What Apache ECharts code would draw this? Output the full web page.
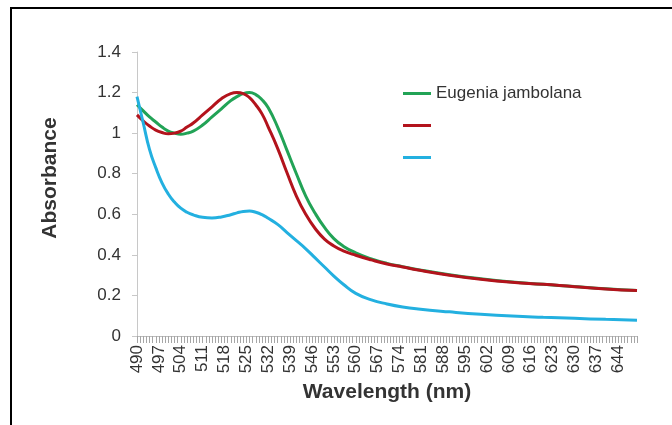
<!DOCTYPE html>
<html>
	<head>
		<meta charset="utf-8">
		<title>Absorbance</title>
		<style type="text/css">
			html, body{
				margin: 0;
				padding: 0;
				background: #fff;
			}
			#chart{
				width: 672px;
				height: 425px;
			}
		</style>
	</head>
	<body>
		<div id="chart"></div>

		<script src="https://cdn.jsdelivr.net/npm/echarts/dist/echarts.min.js"></script>
		<script>
			// 数据
			var seriesNames = ['Eugenia jambolana', 'series 2', 'series 3'];
			var firstNm = 490;
			var lastNm = 650;
			var sampleNm = [490, 492, 494, 496, 498, 500, 502, 504, 506, 508, 511, 514, 517, 520, 522, 524, 526, 528, 530, 532,
				535, 538, 541, 544, 547, 550, 553, 556, 560, 565, 570, 575, 580, 590, 600, 610, 620, 630, 640, 650];
			var green = [1.14, 1.11, 1.08, 1.055, 1.03, 1.01, 1.0, 0.995, 1.0, 1.01, 1.04, 1.08, 1.12, 1.16, 1.18, 1.195, 1.2, 1.19, 1.165, 1.125,
				1.03, 0.915, 0.8, 0.69, 0.605, 0.535, 0.48, 0.443, 0.41, 0.38, 0.358, 0.342, 0.327, 0.302, 0.282, 0.266, 0.255, 0.244, 0.233, 0.224];
			var red = [1.09, 1.06, 1.035, 1.015, 1.003, 0.997, 1.0, 1.01, 1.03, 1.05, 1.09, 1.13, 1.17, 1.195, 1.2, 1.195, 1.175, 1.14, 1.095, 1.03,
				0.925, 0.805, 0.69, 0.6, 0.53, 0.478, 0.444, 0.42, 0.398, 0.375, 0.355, 0.34, 0.325, 0.3, 0.28, 0.265, 0.255, 0.243, 0.232, 0.224];
			var blue = [1.18, 1.05, 0.92, 0.83, 0.755, 0.7, 0.66, 0.63, 0.61, 0.597, 0.585, 0.582, 0.587, 0.598, 0.607, 0.614, 0.616, 0.61, 0.598, 0.58,
				0.55, 0.51, 0.47, 0.43, 0.385, 0.34, 0.295, 0.255, 0.21, 0.178, 0.158, 0.143, 0.133, 0.119, 0.107, 0.098, 0.092, 0.087, 0.082, 0.078];
			var yTicks = {min: 0, max: 1.4, interval: 0.2};

			// x轴类目：每个波长一个
			var categories = [];
			for (var nm = firstNm; nm <= lastNm; nm++) {
				categories.push(String(nm));
			}

			function pairs(values) {
				return values.map(function(v, i) {
					return [String(sampleNm[i]), v];
				});
			}

			var myChart = echarts.init(document.getElementById('chart'));

			var lineIcon = 'path://M0,0H28V3H0Z';
			var font = 'Liberation Sans, Arial, sans-serif';

			var option = {
				animation: false,
				color: ['#22a356', '#b3131c', '#23b0e0'],
				textStyle: {
					fontFamily: font
				},
				graphic: [{
					type: 'line',
					shape: {x1: 10, y1: 8, x2: 672, y2: 8},
					style: {stroke: '#000', lineWidth: 2}
				}, {
					type: 'line',
					shape: {x1: 11, y1: 7, x2: 11, y2: 425},
					style: {stroke: '#000', lineWidth: 2}
				}],
				legend: {
					orient: 'vertical',
					left: 403,
					top: 85,
					padding: 0,
					icon: lineIcon,
					itemWidth: 28,
					itemHeight: 16,
					itemGap: 15,
					data: seriesNames,
					// 只有第一条有名字，其余留空（保留行高）
					formatter: function(name) {
						return name === seriesNames[0] ? name : '\u00a0';
					},
					textStyle: {
						fontSize: 17,
						lineHeight: 16,
						color: '#333',
						fontFamily: font
					}
				},
				grid: {
					left: 137,
					right: 35,
					top: 52,
					bottom: 89
				},
				xAxis: {
					type: 'category',
					data: categories,
					boundaryGap: false,
					name: 'Wavelength (nm)',
					nameLocation: 'middle',
					nameGap: 46,
					nameTextStyle: {
						fontSize: 21,
						fontWeight: 'bold',
						color: '#333'
					},
					axisLine: {
						lineStyle: {color: '#bdbdbd'}
					},
					axisTick: {
						interval: 0,
						length: 7,
						lineStyle: {color: '#a6a6a6'}
					},
					axisLabel: {
						interval: 6,
						rotate: 90,
						margin: 9,
						fontSize: 17,
						color: '#333'
					}
				},
				yAxis: {
					type: 'value',
					min: yTicks.min,
					max: yTicks.max,
					interval: yTicks.interval,
					name: 'Absorbance',
					nameLocation: 'middle',
					nameGap: 76,
					nameTextStyle: {
						fontSize: 21,
						fontWeight: 'bold',
						color: '#333',
						padding: [0, 0, 0, 32]
					},
					axisLine: {
						show: true,
						lineStyle: {color: '#c8c8c8'}
					},
					axisTick: {
						show: true,
						length: 5,
						lineStyle: {color: '#c8c8c8'}
					},
					axisLabel: {
						fontSize: 17,
						color: '#333',
						margin: 16
					},
					splitLine: {
						show: false
					}
				},
				series: [{
					name: seriesNames[0],
					type: 'line',
					smooth: true,
					symbol: 'none',
					lineStyle: {width: 3},
					data: pairs(green)
				}, {
					name: seriesNames[1],
					type: 'line',
					smooth: true,
					symbol: 'none',
					lineStyle: {width: 3},
					data: pairs(red)
				}, {
					name: seriesNames[2],
					type: 'line',
					smooth: true,
					symbol: 'none',
					lineStyle: {width: 3},
					data: pairs(blue)
				}]
			};

			myChart.setOption(option);
		</script>
	</body>
</html>
